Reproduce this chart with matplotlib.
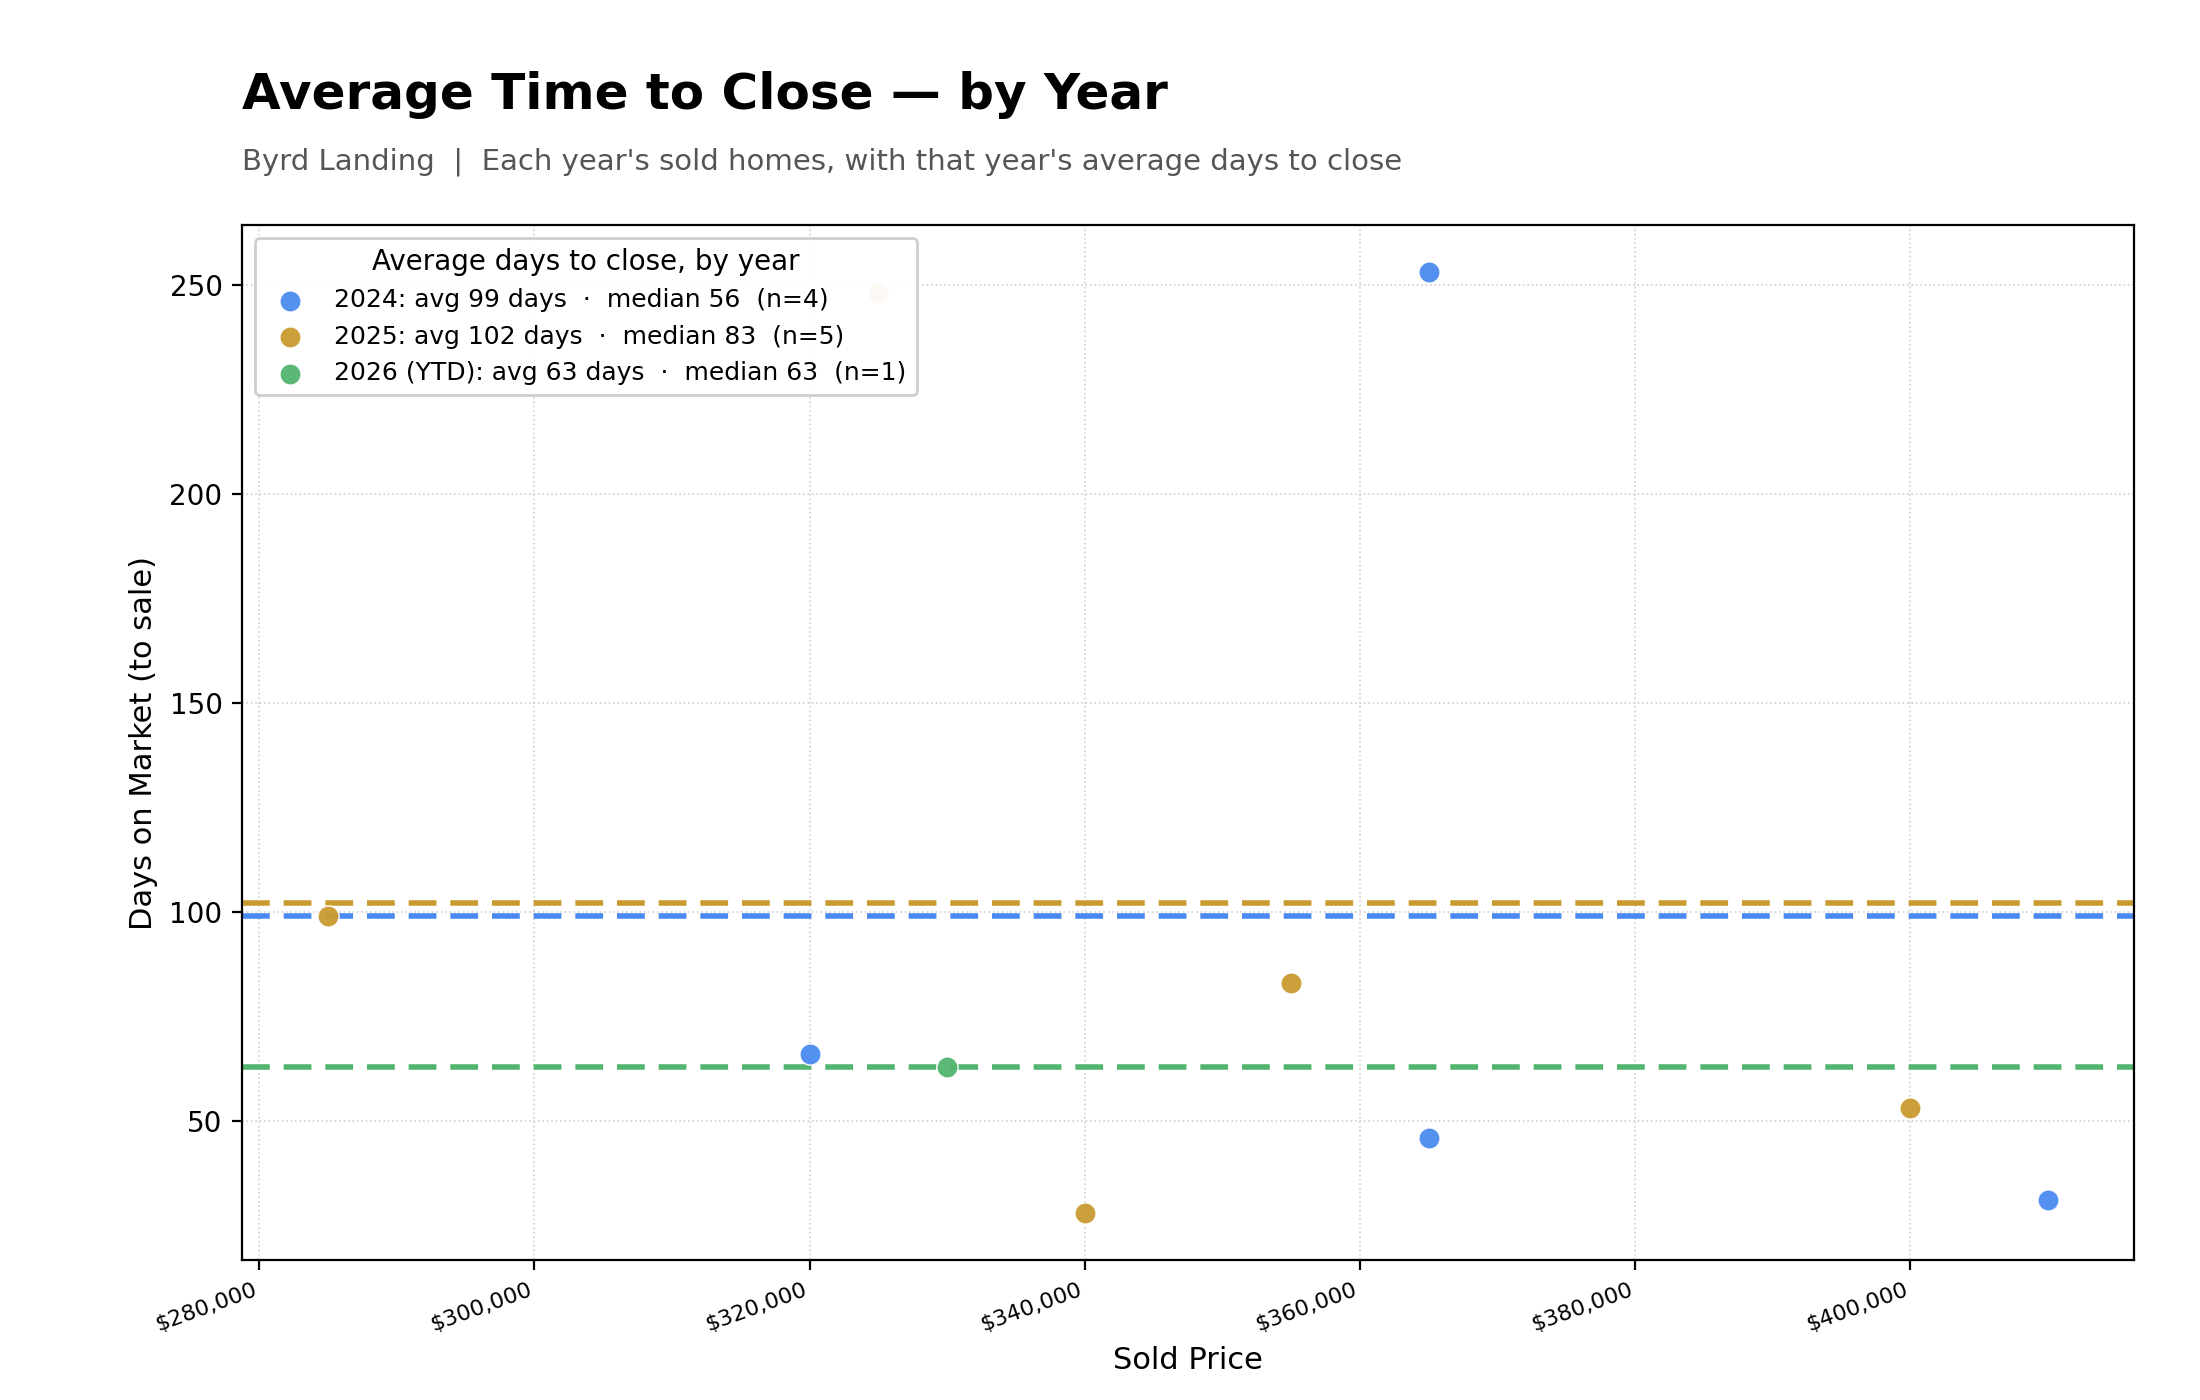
import matplotlib
matplotlib.use("Agg")
import matplotlib.pyplot as plt
from matplotlib.ticker import FuncFormatter
import numpy as np

years = ["2024", "2025", "2026 (YTD)"]
colors = ["#4a8af0", "#c99b2f", "#52b46f"]
prices = [
    [320000, 365000, 365000, 410000],
    [285000, 325000, 340000, 355000, 400000],
    [330000],
]
days = [
    [66, 253, 46, 31],
    [99, 248, 28, 83, 53],
    [63],
]

fig = plt.figure(figsize=(11, 7), dpi=200)
ax = fig.add_axes([0.110, 0.100, 0.860, 0.739])

for yr, col, px, dy in zip(years, colors, prices, days):
    dy_arr = np.array(dy, dtype=float)
    avg = dy_arr.mean()
    med = np.median(dy_arr)
    label = f"{yr}: avg {avg:.0f} days  \u00b7  median {med:.0f}  (n={len(dy)})"
    ax.scatter(px, dy, s=58, color=col, alpha=0.95, edgecolors="white",
               linewidths=0.5, zorder=3, label=label)
    ax.axhline(avg, color=col, lw=2.0, linestyle=(0, (5, 2.5)), zorder=2)

ax.grid(True, linestyle=":", color="#d0d0d0", linewidth=0.6)
ax.set_axisbelow(True)
ax.xaxis.set_major_formatter(FuncFormatter(lambda v, p: f"${v:,.0f}"))
plt.setp(ax.get_xticklabels(), rotation=20, ha="right", fontsize=8)
ax.tick_params(axis="y", labelsize=10)
ax.set_xlabel("Sold Price", fontsize=11)
ax.set_ylabel("Days on Market (to sale)", fontsize=11)

leg = ax.legend(title="Average days to close, by year", loc="upper left",
                fontsize=9, title_fontsize=10, framealpha=0.95)

fig.text(0.110, 0.922, "Average Time to Close \u2014 by Year", fontsize=18,
         fontweight="bold", ha="left", va="baseline")
fig.text(0.110, 0.879, "Byrd Landing  |  Each year's sold homes, with that year's average days to close",
         fontsize=10.5, color="#555555", ha="left", va="baseline")

fig.savefig("out.png", dpi=200)
